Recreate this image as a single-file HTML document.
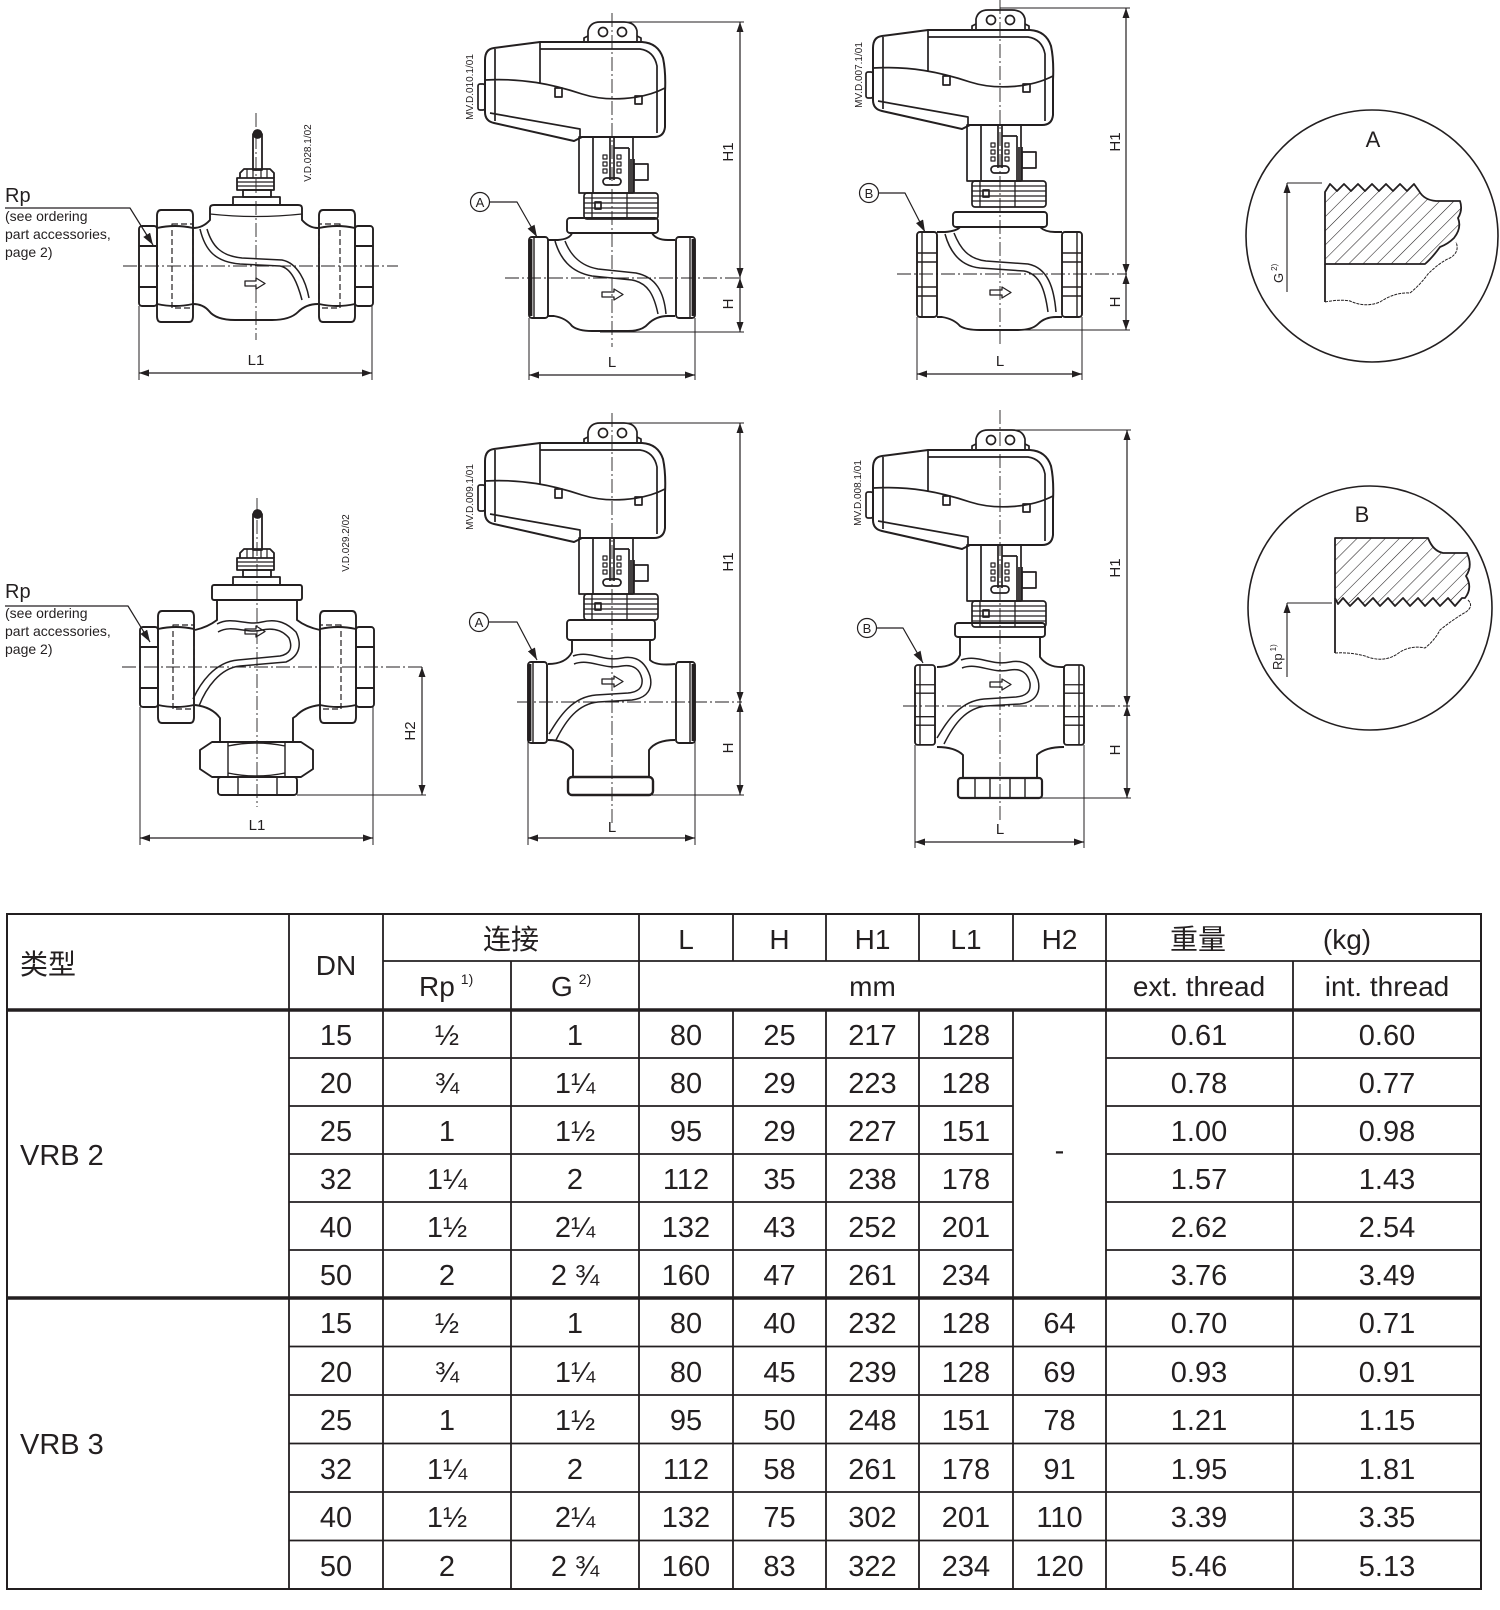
<!DOCTYPE html>
<html><head><meta charset="utf-8"><style>
html,body{margin:0;padding:0;background:#fff;}
svg{display:block;}
text{font-family:"Liberation Sans","Noto Sans CJK SC",sans-serif;fill:#231f20;}
</style></head><body>
<svg width="1500" height="1610" viewBox="0 0 1500 1610" xmlns="http://www.w3.org/2000/svg">
<defs>
<marker id="ar" viewBox="0 0 10 7" refX="10" refY="3.5" markerWidth="10" markerHeight="7" markerUnits="userSpaceOnUse" orient="auto-start-reverse"><path d="M0,0 L10,3.5 L0,7 z" fill="#231f20"/></marker>
<marker id="ar2" viewBox="0 0 12 8" refX="12" refY="4" markerWidth="12" markerHeight="8" markerUnits="userSpaceOnUse" orient="auto"><path d="M0,0 L12,4 L0,8 z" fill="#231f20"/></marker>
<pattern id="hat" patternUnits="userSpaceOnUse" width="10" height="10" patternTransform="rotate(45)"><line x1="0" y1="0" x2="0" y2="10" stroke="#231f20" stroke-width="1.1"/></pattern>
<g id="act" fill="none" stroke="#231f20" stroke-width="1.7" stroke-linejoin="round">
<path d="M-24,21 L-24,9 Q-22,0 -12,0 L12,0 Q23,0 25,9 L25,21"/>
<path d="M-24,14 L-28,16 L-28,21 M25,14 L29,16 L29,21"/>
<circle cx="-9" cy="10" r="4.5"/><circle cx="10" cy="10" r="4.5"/>
<path d="M-118,26 L-72,20 L30,20 Q46,21 51,36 Q54,50 53,70 L53,105 Q52,115 42,115 L-30,115 L-38,119 L-118,101 Q-127,99 -127,90 L-127,38 Q-127,27 -118,26 Z" stroke-width="2"/>
<path d="M-72,20 L-72,61 M-72,27 L28,27 Q42,29 45,44 L45,111 M-122,91 L-32,107 L-32,115 M-127,58 C-90,56 -60,62 -30,72 C-5,80 30,78 53,66 M-117,27 L-117,99"/>
<rect x="-57" y="66" width="7" height="9"/><rect x="23" y="74" width="7" height="8"/>
<rect x="-134" y="62" width="7" height="26" rx="2"/>
<rect x="-33" y="115" width="54" height="56"/>
<path d="M-19,115 L-19,171 M17,126 L17,171 M-2,115 L-2,158 M2,115 L2,158 M2,126 L17,126"/>
<path d="M-9,133h4v4h-4z M-9,140h4v4h-4z M-9,147h4v4h-4z M5,133h4v4h-4z M5,140h4v4h-4z M5,147h4v4h-4z" stroke-width="1.2"/>
<rect x="-9" y="156" width="18" height="7" rx="3.5"/>
<path d="M19,137 L19,171 M22,137 L22,171"/>
<rect x="22" y="142" width="14" height="16"/>
<rect x="-28" y="171" width="74" height="26" rx="3"/>
<path d="M-28,176 L46,176 M-28,181 L46,181 M-28,186 L46,186 M-28,191 L46,191 M15,171 L15,197 M-20,171 L-20,197" stroke-width="1.3"/>
<rect x="-17" y="180" width="6" height="7"/>
</g>
<g id="nutsL" fill="none" stroke="#231f20" stroke-width="1.9" stroke-linejoin="round">
<rect x="139" y="226" width="18" height="80" rx="3"/>
<path d="M139,246 L157,246 M139,287 L157,287"/>
<path d="M161,210 L189,210 Q193,210 193,216 L193,316 Q193,322 189,322 L161,322 Q157,322 157,316 L157,216 Q157,210 161,210 Z"/>
<path d="M157,228 Q175,224 193,228 M157,304 Q175,308 193,304"/>
<rect x="172" y="224" width="21" height="84" stroke-dasharray="6 3" stroke-width="1.2"/>
</g>
<g id="top1" fill="none" stroke="#231f20" stroke-width="1.8" stroke-linejoin="round">
<rect x="253" y="134" width="9" height="36"/>
<circle cx="257.5" cy="134" r="4" fill="#231f20"/>
<path d="M240,178 L240,173 L244,169 L270,169 L274,173 L274,178"/>
<path d="M247,169 L247,178 M253,169 L253,178 M261,169 L261,178 M267,169 L267,178" stroke-width="1.2"/>
<rect x="237" y="178" width="37" height="12"/>
<path d="M237,182 L274,182 M237,186 L274,186" stroke-width="1.2"/>
<rect x="243" y="190" width="28" height="7"/>
<rect x="233" y="197" width="47" height="8"/>
</g>
<g id="endB" fill="none" stroke="#231f20" stroke-width="1.9">
<rect x="0" y="0" width="20" height="85" rx="3"/>
<path d="M0,21 L20,21 M0,30 L20,30 M0,55 L20,55 M0,64 L20,64 M5,0 L5,85" stroke-width="1.4"/>
</g>
<g id="endA" fill="none" stroke="#231f20" stroke-width="1.9">
<rect x="0" y="0" width="19" height="81" rx="3"/>
<path d="M1.5,2 L1.5,79" stroke-width="3.8"/>
<path d="M5,0 L5,81" stroke-width="1.4"/>
</g>
</defs>

<!-- ============ DRAWING 1 ============ -->
<g fill="none" stroke="#231f20" stroke-width="1.9" stroke-linejoin="round">
<use href="#nutsL"/>
<use href="#nutsL" transform="translate(512,0) scale(-1,1)"/>
<use href="#top1"/>
<path d="M193,228 Q203,228 210,220 L210,208 Q210,205 214,205 L298,205 Q302,205 302,208 L302,220 Q309,228 318,228 M318,304 Q306,304 298,312 Q290,320 272,320 L235,320 Q216,320 209,311 Q203,304 193,304"/>
<path d="M210,214 Q256,219 302,214" stroke-width="1.3"/>
<path d="M200,229 C205,250 215,262 240,264 L280,266 C292,268 298,285 302,300" stroke-width="1.5"/>
<path d="M207,229 C212,246 221,256 242,258 L282,260 C298,263 306,282 309,298" stroke-width="1.5"/>
<path d="M245,281 L256,281 L256,278 L265,283.5 L256,289 L256,286 L245,286 Z" stroke-width="1.3"/>
<path d="M139,306 L139,380 M372,306 L372,380" stroke-width="1"/>
<path d="M139,373 L372,373" stroke-width="1.2" marker-start="url(#ar)" marker-end="url(#ar)"/>
<path d="M5,208 L130,208 L153,245" stroke-width="1.2" marker-end="url(#ar2)"/>
</g>
<path d="M256,113 L256,340 M123,266 L398,266" stroke="#231f20" stroke-width="0.9" stroke-dasharray="14 3 2 3" fill="none"/>
<text x="256" y="365" font-size="15" text-anchor="middle">L1</text>
<text x="5" y="202" font-size="20">Rp</text>
<text x="5" y="221" font-size="14">(see ordering</text>
<text x="5" y="239" font-size="14">part accessories,</text>
<text x="5" y="257" font-size="14">page 2)</text>
<text transform="translate(311,153) rotate(-90)" font-size="10" text-anchor="middle">V.D.028.1/02</text>

<!-- ============ DRAWING 4 ============ -->
<g fill="none" stroke="#231f20" stroke-width="1.9" stroke-linejoin="round">
<use href="#nutsL" transform="translate(1,401)"/>
<use href="#nutsL" transform="translate(513,401) scale(-1,1)"/>
<use href="#top1" transform="translate(0,380)"/>
<rect x="212" y="585" width="90" height="15" rx="2"/>
<path d="M195,630 Q208,627 217,620 L217,600 M297,600 L297,620 Q306,627 320,630"/>
<path d="M320,705 Q304,707 296,716 L293,718 L293,742 M220,742 L220,718 Q212,707 195,705"/>
<path d="M217,624 C232,616 246,626 262,622 C278,618 288,624 296,632 C302,644 300,656 286,662 L240,666 C220,668 206,688 199,706" stroke-width="1.5"/>
<path d="M218,632 C232,624 246,634 262,630 C276,627 284,632 289,638 C293,648 290,654 280,656 L238,660 C214,662 200,684 193,699" stroke-width="1.5"/>
<path d="M245,629 L256,629 L256,626 L265,631.5 L256,637 L256,634 L245,634 Z" stroke-width="1.3"/>
<path d="M200,750 L212,742 L301,742 L313,750 L313,769 L301,777 L212,777 L200,769 Z"/>
<path d="M228,742 L228,777 M285,742 L285,777 M228,746 Q256,740 285,746 M228,773 Q256,779 285,773" stroke-width="1.4"/>
<rect x="218" y="777" width="79" height="18" rx="3"/>
<path d="M238,777 L238,795 M277,777 L277,795" stroke-width="1.4"/>
<path d="M140,707 L140,845 M373,707 L373,845" stroke-width="1"/>
<path d="M140,838 L373,838" stroke-width="1.2" marker-start="url(#ar)" marker-end="url(#ar)"/>
<path d="M297,795 L426,795" stroke-width="1"/>
<path d="M422,667 L422,795" stroke-width="1.2" marker-start="url(#ar)" marker-end="url(#ar)"/>
<path d="M5,606 L128,606 L150,642" stroke-width="1.2" marker-end="url(#ar2)"/>
</g>
<path d="M257,498 L257,807 M122,667 L423,667" stroke="#231f20" stroke-width="0.9" stroke-dasharray="14 3 2 3" fill="none"/>
<text x="257" y="830" font-size="15" text-anchor="middle">L1</text>
<text transform="translate(415,731) rotate(-90)" font-size="15" text-anchor="middle">H2</text>
<text x="5" y="598" font-size="20">Rp</text>
<text x="5" y="618" font-size="14">(see ordering</text>
<text x="5" y="636" font-size="14">part accessories,</text>
<text x="5" y="654" font-size="14">page 2)</text>
<text transform="translate(349,543) rotate(-90)" font-size="10" text-anchor="middle">V.D.029.2/02</text>

<!-- ============ DRAWING 2 ============ -->
<use href="#act" transform="translate(612,22)"/>
<g fill="none" stroke="#231f20" stroke-width="1.9" stroke-linejoin="round">
<rect x="567" y="218" width="91" height="15" rx="3"/>
<path d="M548,240 L558,240 Q570,239 572,233 M652,233 Q656,240 668,240 L675,240"/>
<path d="M548,316 L554,316 Q566,318 572,326 Q578,331 592,331 L628,331 Q642,331 648,324 Q656,316 668,316 L675,316"/>
<path d="M555,241 C560,258 570,272 592,276 L632,280 C648,283 654,295 658,314" stroke-width="1.5"/>
<path d="M565,241 C570,254 580,266 598,269 L636,273 C656,277 664,292 666,314" stroke-width="1.5"/>
<path d="M602,292 L614,292 L614,289 L623,294.5 L614,300 L614,297 L602,297 Z" stroke-width="1.3"/>
<use href="#endA" transform="translate(529,237)"/>
<use href="#endA" transform="translate(695,237) scale(-1,1)"/>
<path d="M612,22 L744,22 M600,332 L744,332" stroke-width="1"/>
<path d="M740,22 L740,278" stroke-width="1.2" marker-start="url(#ar)" marker-end="url(#ar)"/>
<path d="M740,278 L740,332" stroke-width="1.2" marker-start="url(#ar)" marker-end="url(#ar)"/>
<path d="M529,318 L529,380 M695,318 L695,380" stroke-width="1"/>
<path d="M529,375 L695,375" stroke-width="1.2" marker-start="url(#ar)" marker-end="url(#ar)"/>
<circle cx="480" cy="202" r="9.5" stroke-width="1.2"/>
<path d="M490,202 L517,202 L537,237" stroke-width="1.2" marker-end="url(#ar2)"/>
</g>
<path d="M612,13 L612,347 M505,278 L742,278" stroke="#231f20" stroke-width="0.9" stroke-dasharray="14 3 2 3" fill="none"/>
<text x="480" y="207" font-size="13" text-anchor="middle">A</text>
<text x="612" y="367" font-size="15" text-anchor="middle">L</text>
<text transform="translate(733,152) rotate(-90)" font-size="15" text-anchor="middle">H1</text>
<text transform="translate(733,304) rotate(-90)" font-size="15" text-anchor="middle">H</text>
<text transform="translate(473,87) rotate(-90)" font-size="10" text-anchor="middle">MV.D.010.1/01</text>

<!-- ============ DRAWING 3 ============ -->
<use href="#act" transform="translate(1000,10)"/>
<g fill="none" stroke="#231f20" stroke-width="1.9" stroke-linejoin="round">
<rect x="953" y="212" width="94" height="15" rx="3"/>
<path d="M937,232 L945,232 Q957,231 960,227 M1040,227 Q1045,232 1055,232 L1062,232"/>
<path d="M937,317 L942,317 Q954,319 960,326 Q966,330 980,330 L1018,330 Q1032,330 1038,324 Q1045,317 1056,317 L1062,317"/>
<path d="M945,234 C950,252 960,266 980,268 L1024,271 C1040,274 1045,290 1048,312" stroke-width="1.5"/>
<path d="M954,233 C960,248 968,259 986,261 L1028,264 C1048,268 1054,288 1056,312" stroke-width="1.5"/>
<path d="M990,290 L1002,290 L1002,287 L1011,292.5 L1002,298 L1002,295 L990,295 Z" stroke-width="1.3"/>
<use href="#endB" transform="translate(917,232)"/>
<use href="#endB" transform="translate(1082,232) scale(-1,1)"/>
<path d="M1000,8 L1130,8 M990,330 L1130,330" stroke-width="1"/>
<path d="M1126,8 L1126,274" stroke-width="1.2" marker-start="url(#ar)" marker-end="url(#ar)"/>
<path d="M1126,274 L1126,330" stroke-width="1.2" marker-start="url(#ar)" marker-end="url(#ar)"/>
<path d="M917,317 L917,380 M1082,317 L1082,380" stroke-width="1"/>
<path d="M917,374 L1082,374" stroke-width="1.2" marker-start="url(#ar)" marker-end="url(#ar)"/>
<circle cx="869" cy="193" r="9.5" stroke-width="1.2"/>
<path d="M879,193 L905,193 L925,232" stroke-width="1.2" marker-end="url(#ar2)"/>
</g>
<path d="M1000,0 L1000,345 M897,274 L1127,274" stroke="#231f20" stroke-width="0.9" stroke-dasharray="14 3 2 3" fill="none"/>
<text x="869" y="198" font-size="13" text-anchor="middle">B</text>
<text x="1000" y="366" font-size="15" text-anchor="middle">L</text>
<text transform="translate(1120,142) rotate(-90)" font-size="15" text-anchor="middle">H1</text>
<text transform="translate(1120,302) rotate(-90)" font-size="15" text-anchor="middle">H</text>
<text transform="translate(862,75) rotate(-90)" font-size="10" text-anchor="middle">MV.D.007.1/01</text>

<!-- ============ DRAWING 5 ============ -->
<use href="#act" transform="translate(612,423)"/>
<g fill="none" stroke="#231f20" stroke-width="1.9" stroke-linejoin="round">
<rect x="567" y="620" width="88" height="20" rx="3"/>
<path d="M548,664 Q566,664 572,652 L572,640 M650,640 L650,660 Q656,666 675,664"/>
<path d="M548,740 Q566,740 573,750 L573,777 M649,777 L649,750 Q656,740 675,740"/>
<path d="M573,656 C590,650 603,662 622,658 C638,655 646,664 650,676 C653,688 648,698 632,700 L598,702 C578,704 566,720 556,740" stroke-width="1.5"/>
<path d="M574,664 C590,658 603,670 622,666 C634,664 640,670 642,679 C643,688 638,692 628,693 L596,695 C572,697 560,716 549,734" stroke-width="1.5"/>
<path d="M602,679 L614,679 L614,676 L623,681.5 L614,687 L614,684 L602,684 Z" stroke-width="1.3"/>
<rect x="568" y="777" width="85" height="18" rx="4" stroke-width="2.4"/>
<use href="#endA" transform="translate(528,662)"/>
<use href="#endA" transform="translate(695,662) scale(-1,1)"/>
<path d="M612,423 L744,423 M650,795 L744,795" stroke-width="1"/>
<path d="M740,423 L740,702" stroke-width="1.2" marker-start="url(#ar)" marker-end="url(#ar)"/>
<path d="M740,702 L740,795" stroke-width="1.2" marker-start="url(#ar)" marker-end="url(#ar)"/>
<path d="M528,742 L528,845 M695,742 L695,845" stroke-width="1"/>
<path d="M528,838 L695,838" stroke-width="1.2" marker-start="url(#ar)" marker-end="url(#ar)"/>
<circle cx="479" cy="622" r="9.5" stroke-width="1.2"/>
<path d="M489,622 L517,622 L537,660" stroke-width="1.2" marker-end="url(#ar2)"/>
</g>
<path d="M612,413 L612,823 M517,702 L742,702" stroke="#231f20" stroke-width="0.9" stroke-dasharray="14 3 2 3" fill="none"/>
<text x="479" y="627" font-size="13" text-anchor="middle">A</text>
<text x="612" y="832" font-size="15" text-anchor="middle">L</text>
<text transform="translate(733,562) rotate(-90)" font-size="15" text-anchor="middle">H1</text>
<text transform="translate(733,748) rotate(-90)" font-size="15" text-anchor="middle">H</text>
<text transform="translate(473,497) rotate(-90)" font-size="10" text-anchor="middle">MV.D.009.1/01</text>

<!-- ============ DRAWING 6 ============ -->
<use href="#act" transform="translate(1000,430)"/>
<g fill="none" stroke="#231f20" stroke-width="1.9" stroke-linejoin="round">
<rect x="955" y="623" width="90" height="14" rx="3"/>
<path d="M937,667 Q955,667 960,655 L960,637 M1040,637 L1040,657 Q1048,668 1064,667"/>
<path d="M937,747 Q955,747 963,755 L963,778 M1037,778 L1037,755 Q1045,747 1064,747"/>
<path d="M961,660 C978,654 991,666 1010,662 C1026,659 1034,668 1038,680 C1041,692 1036,702 1020,704 L986,706 C966,708 954,724 944,744" stroke-width="1.5"/>
<path d="M962,668 C978,662 991,674 1010,670 C1022,668 1028,674 1030,683 C1031,692 1026,696 1016,697 L984,699 C960,701 948,720 937,738" stroke-width="1.5"/>
<path d="M990,682 L1002,682 L1002,679 L1011,684.5 L1002,690 L1002,687 L990,687 Z" stroke-width="1.3"/>
<rect x="958" y="778" width="84" height="20" rx="3" stroke-width="2.2"/>
<path d="M975,778 L975,798 M990,778 L990,798 M1010,778 L1010,798 M1025,778 L1025,798" stroke-width="1.4"/>
<use href="#endB" transform="translate(915,665) scale(1,0.94)"/>
<use href="#endB" transform="translate(1084,665) scale(-1,0.94)"/>
<path d="M1000,430 L1131,430 M1040,798 L1131,798" stroke-width="1"/>
<path d="M1127,430 L1127,706" stroke-width="1.2" marker-start="url(#ar)" marker-end="url(#ar)"/>
<path d="M1127,706 L1127,798" stroke-width="1.2" marker-start="url(#ar)" marker-end="url(#ar)"/>
<path d="M915,745 L915,848 M1084,745 L1084,848" stroke-width="1"/>
<path d="M915,842 L1084,842" stroke-width="1.2" marker-start="url(#ar)" marker-end="url(#ar)"/>
<circle cx="867" cy="628" r="9.5" stroke-width="1.2"/>
<path d="M877,628 L903,628 L923,663" stroke-width="1.2" marker-end="url(#ar2)"/>
</g>
<path d="M1000,410 L1000,823 M903,706 L1130,706" stroke="#231f20" stroke-width="0.9" stroke-dasharray="14 3 2 3" fill="none"/>
<text x="867" y="633" font-size="13" text-anchor="middle">B</text>
<text x="1000" y="834" font-size="15" text-anchor="middle">L</text>
<text transform="translate(1120,568) rotate(-90)" font-size="15" text-anchor="middle">H1</text>
<text transform="translate(1120,750) rotate(-90)" font-size="15" text-anchor="middle">H</text>
<text transform="translate(861,493) rotate(-90)" font-size="10" text-anchor="middle">MV.D.008.1/01</text>

<!-- ============ DETAIL A ============ -->
<g fill="none" stroke="#231f20" stroke-width="1.6" stroke-linejoin="round">
<circle cx="1372" cy="236" r="126"/>
<path d="M1325,264 L1325,192 L1330,184 L1337,191 L1344,184 L1351,191 L1358,184 L1365,191 L1372,184 L1379,191 L1386,184 L1393,191 L1400,184 L1407,191 L1414,184 L1419,191 Q1424,200 1436,201 L1460,201 Q1463,210 1458,218 Q1462,228 1454,238 Q1448,244 1440,247 Q1432,258 1425,264 Z" fill="url(#hat)" stroke-width="1.8"/>
<path d="M1325,264 L1325,302" stroke-width="1.8"/>
<path d="M1325,302 Q1340,299 1350,301 Q1365,308 1380,302 Q1395,292 1410,293 Q1420,285 1428,274 Q1440,262 1450,258 Q1460,252 1456,242" stroke-width="1" stroke-dasharray="3 1"/>
<path d="M1287,183 L1322,183" stroke-width="1.1"/>
<path d="M1287,292 L1287,183" stroke-width="1.1" marker-end="url(#ar)"/>
</g>
<text x="1373" y="147" font-size="22" text-anchor="middle">A</text>
<text transform="translate(1283,283) rotate(-90)" font-size="13">G<tspan font-size="8" dy="-6" dx="2">2)</tspan></text>

<!-- ============ DETAIL B ============ -->
<g fill="none" stroke="#231f20" stroke-width="1.6" stroke-linejoin="round">
<circle cx="1370" cy="608" r="122"/>
<path d="M1335,598 L1335,538 L1428,538 Q1433,551 1443,553 L1467,553 Q1473,566 1466,576 Q1473,588 1465,598 L1462,598 L1455,606 L1448,598 L1440,606 L1433,598 L1425,606 L1418,598 L1410,606 L1403,598 L1395,606 L1388,598 L1380,606 L1373,598 L1365,606 L1358,598 L1350,606 L1343,598 L1338,604 Z" fill="url(#hat)" stroke-width="1.8"/>
<path d="M1335,598 L1335,653" stroke-width="1.8"/>
<path d="M1335,653 Q1350,652 1365,656 Q1385,664 1400,652 Q1412,645 1425,648 Q1435,640 1440,630 Q1455,618 1466,612 Q1474,606 1468,600" stroke-width="1" stroke-dasharray="3 1"/>
<path d="M1287,603 L1332,603" stroke-width="1.1"/>
<path d="M1287,677 L1287,603" stroke-width="1.1" marker-end="url(#ar)"/>
</g>
<text x="1362" y="522" font-size="22" text-anchor="middle">B</text>
<text transform="translate(1282,670) rotate(-90)" font-size="13">Rp<tspan font-size="8" dy="-6" dx="2">1)</tspan></text>

<!-- ============ TABLE ============ -->
<g stroke="#231f20" fill="none">
<rect x="7" y="914" width="1474" height="675" stroke-width="2"/>
<path stroke-width="1.8" d="M289,914 L289,1589 M383,914 L383,1589 M511,961 L511,1589 M639,914 L639,1589 M733,914 L733,961 M826,914 L826,961 M919,914 L919,961 M1013,914 L1013,961 M733,1010 L733,1589 M826,1010 L826,1589 M919,1010 L919,1589 M1013,1010 L1013,1589 M1106,914 L1106,1589 M1293,961 L1293,1589"/>
<path stroke-width="1.8" d="M383,961 L1481,961"/>
<path stroke-width="1.8" d="M289,1058 L1013,1058 M1106,1058 L1481,1058 M289,1106 L1013,1106 M1106,1106 L1481,1106 M289,1154 L1013,1154 M1106,1154 L1481,1154 M289,1202 L1013,1202 M1106,1202 L1481,1202 M289,1250 L1013,1250 M1106,1250 L1481,1250"/>
<path stroke-width="1.8" d="M289,1346.5 L1481,1346.5 M289,1395 L1481,1395 M289,1443.5 L1481,1443.5 M289,1492 L1481,1492 M289,1540.5 L1481,1540.5"/>
<path stroke-width="3.6" d="M7,1010 L1481,1010 M7,1298 L1481,1298"/>
</g>
<g font-size="28">
<text x="20" y="974">类型</text>
<text x="336" y="975" text-anchor="middle">DN</text>
<text x="511" y="949" text-anchor="middle">连接</text>
<text x="686" y="949" text-anchor="middle">L</text>
<text x="779.5" y="949" text-anchor="middle">H</text>
<text x="872.5" y="949" text-anchor="middle">H1</text>
<text x="966" y="949" text-anchor="middle">L1</text>
<text x="1059.5" y="949" text-anchor="middle">H2</text>
<text x="1198" y="949" text-anchor="middle">重量</text>
<text x="1347" y="949" text-anchor="middle">(kg)</text>
<text x="419" y="996">Rp<tspan font-size="14" dy="-12" dx="6">1)</tspan></text>
<text x="551" y="996">G<tspan font-size="14" dy="-12" dx="6">2)</tspan></text>
<text x="872.5" y="996" text-anchor="middle">mm</text>
<text x="1199" y="996" text-anchor="middle">ext. thread</text>
<text x="1387" y="996" text-anchor="middle">int. thread</text>
</g>
<g font-size="29">
<text x="20" y="1165">VRB 2</text>
<text x="20" y="1454">VRB 3</text>
</g>
<g font-size="29" text-anchor="middle">
<text x="1059.5" y="1160">-</text>
<text x="336" y="1045">15</text><text x="447" y="1045">½</text><text x="575" y="1045">1</text><text x="686" y="1045">80</text><text x="779.5" y="1045">25</text><text x="872.5" y="1045">217</text><text x="966" y="1045">128</text><text x="1199" y="1045">0.61</text><text x="1387" y="1045">0.60</text>
<text x="336" y="1093">20</text><text x="447" y="1093">¾</text><text x="575" y="1093">1¼</text><text x="686" y="1093">80</text><text x="779.5" y="1093">29</text><text x="872.5" y="1093">223</text><text x="966" y="1093">128</text><text x="1199" y="1093">0.78</text><text x="1387" y="1093">0.77</text>
<text x="336" y="1141">25</text><text x="447" y="1141">1</text><text x="575" y="1141">1½</text><text x="686" y="1141">95</text><text x="779.5" y="1141">29</text><text x="872.5" y="1141">227</text><text x="966" y="1141">151</text><text x="1199" y="1141">1.00</text><text x="1387" y="1141">0.98</text>
<text x="336" y="1189">32</text><text x="447" y="1189">1¼</text><text x="575" y="1189">2</text><text x="686" y="1189">112</text><text x="779.5" y="1189">35</text><text x="872.5" y="1189">238</text><text x="966" y="1189">178</text><text x="1199" y="1189">1.57</text><text x="1387" y="1189">1.43</text>
<text x="336" y="1237">40</text><text x="447" y="1237">1½</text><text x="575" y="1237">2¼</text><text x="686" y="1237">132</text><text x="779.5" y="1237">43</text><text x="872.5" y="1237">252</text><text x="966" y="1237">201</text><text x="1199" y="1237">2.62</text><text x="1387" y="1237">2.54</text>
<text x="336" y="1285">50</text><text x="447" y="1285">2</text><text x="575" y="1285">2 ¾</text><text x="686" y="1285">160</text><text x="779.5" y="1285">47</text><text x="872.5" y="1285">261</text><text x="966" y="1285">234</text><text x="1199" y="1285">3.76</text><text x="1387" y="1285">3.49</text>
<text x="336" y="1333">15</text><text x="447" y="1333">½</text><text x="575" y="1333">1</text><text x="686" y="1333">80</text><text x="779.5" y="1333">40</text><text x="872.5" y="1333">232</text><text x="966" y="1333">128</text><text x="1059.5" y="1333">64</text><text x="1199" y="1333">0.70</text><text x="1387" y="1333">0.71</text>
<text x="336" y="1382">20</text><text x="447" y="1382">¾</text><text x="575" y="1382">1¼</text><text x="686" y="1382">80</text><text x="779.5" y="1382">45</text><text x="872.5" y="1382">239</text><text x="966" y="1382">128</text><text x="1059.5" y="1382">69</text><text x="1199" y="1382">0.93</text><text x="1387" y="1382">0.91</text>
<text x="336" y="1430">25</text><text x="447" y="1430">1</text><text x="575" y="1430">1½</text><text x="686" y="1430">95</text><text x="779.5" y="1430">50</text><text x="872.5" y="1430">248</text><text x="966" y="1430">151</text><text x="1059.5" y="1430">78</text><text x="1199" y="1430">1.21</text><text x="1387" y="1430">1.15</text>
<text x="336" y="1479">32</text><text x="447" y="1479">1¼</text><text x="575" y="1479">2</text><text x="686" y="1479">112</text><text x="779.5" y="1479">58</text><text x="872.5" y="1479">261</text><text x="966" y="1479">178</text><text x="1059.5" y="1479">91</text><text x="1199" y="1479">1.95</text><text x="1387" y="1479">1.81</text>
<text x="336" y="1527">40</text><text x="447" y="1527">1½</text><text x="575" y="1527">2¼</text><text x="686" y="1527">132</text><text x="779.5" y="1527">75</text><text x="872.5" y="1527">302</text><text x="966" y="1527">201</text><text x="1059.5" y="1527">110</text><text x="1199" y="1527">3.39</text><text x="1387" y="1527">3.35</text>
<text x="336" y="1576">50</text><text x="447" y="1576">2</text><text x="575" y="1576">2 ¾</text><text x="686" y="1576">160</text><text x="779.5" y="1576">83</text><text x="872.5" y="1576">322</text><text x="966" y="1576">234</text><text x="1059.5" y="1576">120</text><text x="1199" y="1576">5.46</text><text x="1387" y="1576">5.13</text>
</g>
</svg>
</body></html>
